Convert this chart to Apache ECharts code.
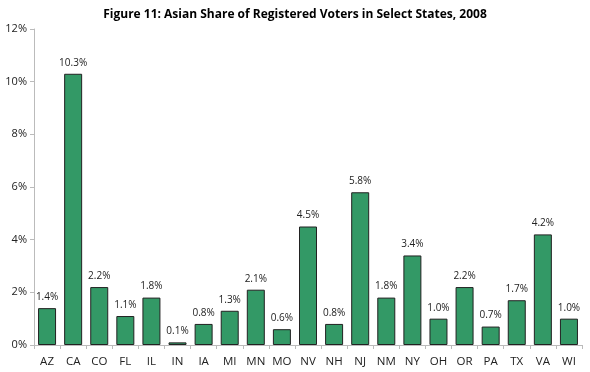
<!DOCTYPE html>
<html><head><meta charset="utf-8">
<script src="https://cdn.jsdelivr.net/npm/echarts@6/dist/echarts.min.js"></script>
<style>html,body{margin:0;padding:0;background:#fff}#c{width:590px;height:372px}</style>
</head><body><div id="c"></div>
<script>
const states = ['AZ','CA','CO','FL','IL','IN','IA','MI','MN','MO','NV','NH','NJ','NM','NY','OH','OR','PA','TX','VA','WI'];
const shares = [1.4,10.3,2.2,1.1,1.8,0.1,0.8,1.3,2.1,0.6,4.5,0.8,5.8,1.8,3.4,1.0,2.2,0.7,1.7,4.2,1.0];
const yTicks = [0,2,4,6,8,10,12];
const FONT = '"Open Sans", "Liberation Sans", sans-serif';
const chart = echarts.init(document.getElementById('c'));
chart.setOption({
  animation:false,
  title:{text:'Figure 11: Asian Share of Registered Voters in Select States, 2008',left:'center',top:4,
    textStyle:{fontFamily:FONT,fontWeight:'bold',fontSize:12,color:'#000'}},
  grid:{left:34,right:8,top:29,bottom:27},
  xAxis:{type:'category',data:states,
    axisLine:{lineStyle:{color:'#bbb'}},
    axisTick:{show:true,length:4,lineStyle:{color:'#bbb'}},
    axisLabel:{fontFamily:FONT,fontSize:11.5,color:'#222',margin:11}},
  yAxis:{type:'value',min:yTicks[0],max:yTicks[yTicks.length-1],interval:2,
    axisLine:{show:true,lineStyle:{color:'#bbb'}},
    axisTick:{show:true,length:4,lineStyle:{color:'#bbb'}},
    splitLine:{show:false},
    axisLabel:{fontFamily:FONT,fontSize:11,color:'#222',formatter:v=>v+'%',margin:7}},
  series:[{type:'bar',data:shares,barWidth:18,
    itemStyle:{color:'#339966',borderColor:'#222',borderWidth:1},
    label:{show:true,position:'top',distance:6,fontFamily:FONT,fontSize:10,color:'#222',
      formatter:p=>p.value.toFixed(1)+'%'}}]
});
</script></body></html>
